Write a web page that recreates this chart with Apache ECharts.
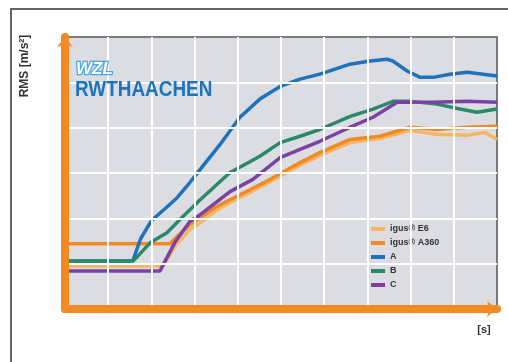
<!DOCTYPE html>
<html>
<head>
<meta charset="utf-8">
<script src="https://cdn.jsdelivr.net/npm/echarts@6/dist/echarts.min.js"></script>
<style>
  html, body { margin: 0; padding: 0; background: #fff; }
  #chart { width: 508px; height: 362px; }
</style>
</head>
<body>
<div id="chart"></div>
<script>
// values: [time, RMS] pairs (axis 0..10 x 0..6, no labels)
var seriesNames = ['igus® E6', 'igus® A360', 'A', 'B', 'C'];
var seriesColors = ['#f7b565', '#f08a24', '#1f72bb', '#2a8a68', '#7a43a3'];

var e6 = [[0, 0.95], [2.27, 0.95], [2.55, 1.39], [2.89, 1.75], [3.13, 1.9], [3.47, 2.15], [3.82, 2.35],
  [4.28, 2.57], [4.75, 2.81], [5.44, 3.17], [5.9, 3.39], [6.6, 3.67], [7.29, 3.76], [7.99, 3.94],
  [8.61, 3.85], [9.31, 3.83], [9.72, 3.9], [10, 3.74]];
var a360 = [[0, 1.44], [2.43, 1.44], [2.62, 1.62], [2.89, 1.86], [3.13, 2.01], [3.47, 2.24], [3.82, 2.41],
  [4.28, 2.63], [4.75, 2.86], [5.44, 3.23], [5.9, 3.45], [6.6, 3.74], [7.29, 3.81], [7.99, 4.01],
  [8.61, 3.96], [9.31, 4.01], [10, 4.03]];
var lineA = [[0, 1.06], [1.57, 1.06], [1.75, 1.55], [2.0, 1.95], [2.3, 2.2], [2.59, 2.45], [2.89, 2.79], [3.13, 3.08],
  [3.59, 3.63], [4.05, 4.23], [4.51, 4.63], [4.98, 4.91], [5.44, 5.07], [5.9, 5.18], [6.6, 5.4],
  [7.06, 5.47], [7.45, 5.51], [7.59, 5.47], [7.92, 5.25], [8.22, 5.11], [8.52, 5.11], [8.91, 5.18],
  [9.31, 5.22], [9.68, 5.18], [10, 5.14]];
var lineB = [[0, 1.06], [1.57, 1.06], [1.67, 1.15], [1.97, 1.46], [2.36, 1.68], [2.73, 2.04], [3.13, 2.41],
  [3.82, 3.01], [4.28, 3.25], [4.51, 3.37], [4.98, 3.67], [5.44, 3.81], [5.9, 3.96], [6.6, 4.25],
  [7.13, 4.41], [7.59, 4.58], [7.99, 4.58], [8.61, 4.52], [9.14, 4.41], [9.54, 4.34], [10, 4.41]];
var lineC = [[0, 0.84], [2.2, 0.84], [2.55, 1.48], [2.89, 1.93], [3.13, 2.08], [3.43, 2.3], [3.82, 2.59],
  [4.35, 2.86], [4.98, 3.34], [5.44, 3.52], [5.9, 3.7], [6.6, 4.01], [7.13, 4.23], [7.69, 4.56],
  [8.52, 4.56], [9.31, 4.58], [10, 4.56]];
var seriesData = [e6, a360, lineA, lineB, lineC];

var chart = echarts.init(document.getElementById('chart'));

var axisOrange = '#f08a24';

chart.setOption({
  animation: false,
  backgroundColor: '#fff',
  grid: {
    left: 65, right: 11, top: 37, bottom: 53,
    show: true, backgroundColor: '#dcdde2', borderColor: '#555', borderWidth: 1.5
  },
  legend: {
    orient: 'vertical', left: 366, top: 219,
    itemWidth: 14, itemHeight: 4, itemGap: 4, icon: 'rect',
    textStyle: { fontSize: 9, lineHeight: 10, color: '#333', fontWeight: 'bold', fontFamily: 'Liberation Sans' },
    data: seriesNames
  },
  xAxis: {
    type: 'value', min: 0, max: 10, interval: 1,
    axisLabel: { show: false }, axisTick: { show: false },
    axisLine: { lineStyle: { color: axisOrange, width: 8 }, symbol: ['none', 'arrow'], symbolSize: [12, 10] },
    splitLine: { showMinLine: false, showMaxLine: false, lineStyle: { color: '#fff', width: 2 } },
    z: 5
  },
  yAxis: {
    type: 'value', min: 0, max: 6, interval: 1, offset: 4,
    axisLabel: { show: false }, axisTick: { show: false },
    axisLine: { lineStyle: { color: axisOrange, width: 8 }, symbol: ['none', 'arrow'], symbolSize: [12, 10] },
    splitLine: { showMinLine: false, showMaxLine: false, lineStyle: { color: '#fff', width: 2 } },
    z: 5
  },
  series: seriesNames.map(function (n, i) {
    return {
      name: n, type: 'line', data: seriesData[i], showSymbol: false, symbol: 'none',
      lineStyle: { color: seriesColors[i], width: 3.5 }, itemStyle: { color: seriesColors[i] }
    };
  }),
  graphic: [
    { type: 'rect', shape: { x: 11, y: 9, width: 520, height: 400 }, style: { fill: 'none', stroke: '#333', lineWidth: 1.5 }, silent: true },
    {
      type: 'text', x: 25, y: 66, rotation: Math.PI / 2,
      style: { text: 'RMS [m/s²]', fill: '#333', font: 'bold 12px "Liberation Sans", Arial', align: 'center', verticalAlign: 'middle' }
    },
    {
      type: 'text', x: 484, y: 330,
      style: { text: '[s]', fill: '#333', font: 'bold 11px "Liberation Sans", Arial', align: 'center', verticalAlign: 'middle' }
    },
    {
      type: 'text', x: 76, y: 61, z: 10,
      style: { text: 'WZL', fill: '#fff', stroke: '#4aa6e4', lineWidth: 2.5, font: 'italic bold 17px "Liberation Sans", Arial' }
    },
    {
      type: 'text', x: 75, y: 79, scaleX: 0.86, z: 10,
      style: { text: 'RWTHAACHEN', fill: '#1c74bc', font: 'bold 22px "Liberation Sans", Arial' }
    }
  ]
});
</script>
</body>
</html>
